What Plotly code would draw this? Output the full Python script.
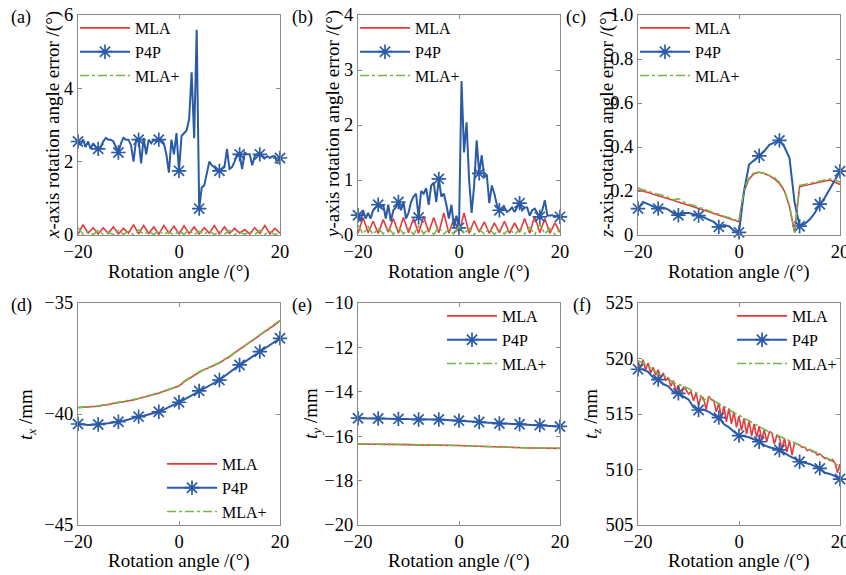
import plotly.graph_objects as go

# sampling grids (degrees)
angle_half = [k / 2 for k in range(-40, 41)]
angle_int = list(range(-20, 21))

# (a) x-axis rotation angle error
a_mla = [0.02, 0.28, 0.05, 0.2, 0.03, 0.2, 0.04, 0.22, 0.03, 0.18, 0.05, 0.28, 0.03, 0.26,
         0.04, 0.22, 0.02, 0.26, 0.05, 0.24, 0.03, 0.25, 0.04, 0.22, 0.03, 0.2, 0.05, 0.26,
         0.03, 0.22, 0.04, 0.18, 0.05, 0.15, 0.03, 0.2, 0.04, 0.26, 0.03, 0.18, 0.05]
a_mlap = [0.2, 0.02, 0.1, 0.01, 0.12, 0.02, 0.08, 0.01, 0.12, 0.02, 0.1, 0.01, 0.14, 0.02,
          0.1, 0.01, 0.12, 0.02, 0.08, 0.01, 0.1, 0.02, 0.14, 0.01, 0.1, 0.02, 0.12, 0.01,
          0.1, 0.02, 0.12, 0.01, 0.08, 0.02, 0.1, 0.01, 0.12, 0.02, 0.1, 0.01, 0.08]
a_p4p = [2.55, 2.45, 2.6, 2.4, 2.55, 2.35, 2.5, 2.4, 2.35, 2.4, 2.55, 2.65, 2.6, 2.6, 2.55,
         2.4, 2.25, 2.5, 2.65, 2.6, 2.6, 2.45, 2.0, 2.6, 2.6, 1.95, 2.65, 2.2, 2.6, 2.5, 2.6,
         2.55, 2.6, 2.6, 2.5, 2.2, 1.7, 2.6, 2.2, 2.78, 1.75, 2.7, 2.78, 2.85, 3.15, 4.44,
         2.64, 5.6, 0.72, 1.3, 1.35, 1.7, 2.0, 1.9, 1.85, 1.75, 1.75, 1.8, 1.85, 2.35, 1.8,
         1.85, 2.0, 2.2, 2.2, 1.8, 2.25, 2.2, 2.2, 1.9, 2.15, 2.2, 2.2, 2.15, 2.1, 2.15, 2.1,
         2.15, 2.15, 1.95, 2.1]

# (b) y-axis rotation angle error
b_mla = [0.03, 0.32, 0.04, 0.25, 0.03, 0.28, 0.05, 0.3, 0.03, 0.32, 0.04, 0.3, 0.03, 0.34,
         0.05, 0.32, 0.04, 0.4, 0.03, 0.3, 0.04, 0.4, 0.03, 0.26, 0.05, 0.24, 0.03, 0.22,
         0.04, 0.25, 0.03, 0.22, 0.05, 0.3, 0.03, 0.34, 0.04, 0.3, 0.03, 0.22, 0.05]
b_mlap = [0.18, 0.02, 0.15, 0.01, 0.12, 0.02, 0.14, 0.01, 0.15, 0.02, 0.12, 0.01, 0.16, 0.02,
          0.12, 0.01, 0.14, 0.02, 0.1, 0.01, 0.16, 0.02, 0.12, 0.01, 0.1, 0.02, 0.12, 0.01,
          0.1, 0.02, 0.12, 0.01, 0.1, 0.02, 0.14, 0.01, 0.2, 0.02, 0.12, 0.01, 0.1]
b_p4p = [0.36, 0.25, 0.45, 0.3, 0.4, 0.3, 0.45, 0.5, 0.55, 0.5, 0.55, 0.3, 0.55, 0.25, 0.45,
         0.5, 0.6, 0.45, 0.6, 0.3, 0.4, 0.6, 0.7, 0.75, 0.32, 0.8, 0.75, 0.85, 0.55, 0.9,
         0.95, 0.6, 1.02, 0.7, 0.75, 0.55, 0.3, 0.55, 0.15, 0.35, 0.13, 2.8, 1.5, 2.05, 1.0,
         0.4, 0.9, 1.72, 1.12, 1.45, 1.05, 1.1, 0.58, 0.9, 0.75, 0.55, 0.45, 0.45, 0.5, 0.42,
         0.45, 0.5, 0.42, 0.5, 0.58, 0.45, 0.5, 0.5, 0.35, 0.45, 0.48, 0.4, 0.33, 0.45, 0.63,
         0.35, 0.35, 0.36, 0.34, 0.35, 0.33]

# (c) z-axis rotation angle error
c_mla = [0.205, 0.2, 0.193, 0.185, 0.18, 0.172, 0.165, 0.158, 0.15, 0.142, 0.135, 0.128,
         0.12, 0.113, 0.106, 0.098, 0.09, 0.083, 0.076, 0.068, 0.06, 0.2, 0.255, 0.28, 0.285,
         0.28, 0.27, 0.255, 0.235, 0.2, 0.13, 0.015, 0.22, 0.225, 0.23, 0.235, 0.24, 0.245,
         0.25, 0.24, 0.23]
c_mlap = [0.215, 0.205, 0.2, 0.19, 0.185, 0.18, 0.17, 0.16, 0.165, 0.15, 0.14, 0.135, 0.125,
          0.12, 0.11, 0.1, 0.095, 0.085, 0.08, 0.07, 0.065, 0.21, 0.26, 0.285, 0.285, 0.28,
          0.27, 0.26, 0.24, 0.205, 0.13, 0.01, 0.225, 0.23, 0.235, 0.24, 0.245, 0.25, 0.255,
          0.25, 0.24]
c_p4p = [0.12, 0.15, 0.14, 0.13, 0.12, 0.125, 0.115, 0.1, 0.09, 0.1, 0.1, 0.095, 0.088, 0.08,
         0.07, 0.06, 0.037, 0.045, 0.04, 0.02, 0.012, 0.2, 0.32, 0.34, 0.36, 0.38, 0.41, 0.42,
         0.43, 0.4, 0.35, 0.15, 0.04, 0.05, 0.07, 0.1, 0.14, 0.17, 0.21, 0.25, 0.29]

# (d) t_x
d_mla = [-39.72, -39.7, -39.7, -39.66, -39.65, -39.6, -39.58, -39.52, -39.5, -39.45, -39.4,
         -39.37, -39.3, -39.25, -39.2, -39.12, -39.07, -38.98, -38.9, -38.82, -38.74, -38.55,
         -38.4, -38.25, -38.12, -38.0, -37.9, -37.78, -37.7, -37.55, -37.42, -37.25, -37.1,
         -36.95, -36.8, -36.62, -36.45, -36.3, -36.15, -35.98, -35.8]
d_mlap = [-39.7, -39.69, -39.68, -39.65, -39.63, -39.6, -39.56, -39.52, -39.48, -39.44, -39.4,
          -39.35, -39.3, -39.24, -39.18, -39.12, -39.05, -38.97, -38.89, -38.8, -38.72, -38.53,
          -38.4, -38.24, -38.1, -37.99, -37.88, -37.77, -37.68, -37.53, -37.4, -37.23, -37.08,
          -36.94, -36.78, -36.6, -36.44, -36.28, -36.12, -35.96, -35.78]
d_p4p = [-40.45, -40.48, -40.5, -40.48, -40.47, -40.44, -40.42, -40.38, -40.35, -40.3, -40.25,
         -40.18, -40.12, -40.08, -40.02, -39.96, -39.9, -39.8, -39.7, -39.58, -39.47, -39.35,
         -39.22, -39.1, -38.96, -38.85, -38.72, -38.6, -38.47, -38.3, -38.12, -37.95, -37.79,
         -37.65, -37.5, -37.35, -37.19, -37.05, -36.9, -36.75, -36.59]

# (e) t_y
e_mla = [-16.35, -16.35, -16.36, -16.36, -16.36, -16.37, -16.37, -16.37, -16.38, -16.38,
         -16.38, -16.39, -16.39, -16.39, -16.4, -16.4, -16.4, -16.41, -16.41, -16.41, -16.42,
         -16.43, -16.44, -16.45, -16.46, -16.47, -16.48, -16.49, -16.5, -16.51, -16.51,
         -16.52, -16.52, -16.52, -16.53, -16.53, -16.53, -16.54, -16.54, -16.54, -16.55]
e_mlap = [-16.34, -16.35, -16.35, -16.36, -16.36, -16.36, -16.37, -16.37, -16.37, -16.38,
          -16.38, -16.38, -16.39, -16.39, -16.39, -16.4, -16.4, -16.4, -16.41, -16.41, -16.41,
          -16.43, -16.44, -16.45, -16.46, -16.47, -16.48, -16.48, -16.49, -16.5, -16.5,
          -16.51, -16.51, -16.52, -16.52, -16.52, -16.53, -16.53, -16.53, -16.54, -16.54]
e_p4p = [-15.19, -15.19, -15.19, -15.2, -15.2, -15.2, -15.21, -15.21, -15.22, -15.22, -15.23,
         -15.24, -15.25, -15.25, -15.25, -15.25, -15.25, -15.26, -15.27, -15.29, -15.3,
         -15.31, -15.32, -15.34, -15.36, -15.38, -15.39, -15.41, -15.43, -15.44, -15.45,
         -15.45, -15.46, -15.47, -15.48, -15.49, -15.5, -15.51, -15.53, -15.55, -15.56]

# (f) t_z
f_mla = [519.7, 519.2, 519.9, 519.0, 519.6, 518.7, 519.2, 518.5, 519.0, 518.2, 518.7, 518.0,
         518.3, 517.5, 518.0, 517.0, 517.6, 516.6, 517.4, 517.2, 516.8, 517.0, 516.2, 516.9,
         515.8, 516.6, 516.4, 515.4, 516.6, 516.3, 516.2, 515.2, 516.0, 514.6, 515.7, 514.3,
         515.5, 514.1, 515.2, 513.8, 514.8, 513.5, 514.6, 513.2, 514.4, 513.0, 514.1, 512.9,
         513.9, 512.6, 513.6, 512.5, 513.4, 513.3, 512.3, 513.1, 512.9, 511.8, 512.8, 511.6,
         512.6, 511.3, 512.4, 512.3, 512.2, 512.0, 512.0, 511.7, 511.8, 511.6, 511.6, 511.3,
         511.4, 511.2, 511.0, 511.0, 510.8, 510.9, 510.6, 509.7, 510.5]
f_mlap = [519.8, 519.6, 519.3, 519.0, 518.6, 518.5, 518.2, 517.8, 517.7, 517.5, 517.3, 517.0,
          516.8, 516.2, 516.5, 516.2, 515.9, 515.7, 515.4, 515.1, 514.9, 514.6, 514.4, 514.1,
          513.9, 513.6, 513.4, 513.2, 513.0, 512.8, 512.6, 512.4, 512.2, 512.0, 511.8, 511.6,
          511.4, 511.1, 510.9, 510.5, 510.3]
f_p4p = [519.03, 519.0, 518.8, 518.3, 518.1, 517.7, 517.5, 517.0, 516.86, 516.6, 516.3, 515.6,
         515.36, 515.4, 515.2, 514.9, 514.67, 514.1, 513.8, 513.4, 513.05, 513.0, 512.9, 512.7,
         512.5, 512.2, 512.0, 511.9, 511.76, 511.5, 511.2, 511.0, 510.7, 510.6, 510.5, 510.3,
         510.1, 509.7, 509.6, 509.4, 509.14]

W, H = 846, 575
FONT = "Liberation Serif, DejaVu Serif, serif"
RED, BLUE, GREEN = "#e8393f", "#2b5ba6", "#74b84a"
FRAME = "#8a8a8a"


def px(x):
    return x / W


def py(y):
    return 1 - y / H


# plot boxes in pixels
cols = [(78, 280), (358, 560), (638, 840)]
rows = [(15, 235), (303, 525)]
xtitle_gap = [37, 36]      # x title centre below the plot box, per row

panels = [
    dict(label="(a)", mla=(angle_int, a_mla), mlap=(angle_int, a_mlap), p4p=(angle_half, a_p4p),
         yr=[0, 6], tv=[0, 2, 4, 6], tt=None,
         ytitle="<i>x</i>-axis rotation angle error /(°)", ytx=53, labx=21,
         leg=dict(x=px(75), y=py(11), xanchor="left", yanchor="top")),
    dict(label="(b)", mla=(angle_int, b_mla), mlap=(angle_int, b_mlap), p4p=(angle_half, b_p4p),
         yr=[0, 4], tv=[0, 1, 2, 3, 4], tt=None,
         ytitle="<i>y</i>-axis rotation angle error /(°)", ytx=333, labx=302,
         leg=dict(x=px(355), y=py(11), xanchor="left", yanchor="top")),
    dict(label="(c)", mla=(angle_int, c_mla), mlap=(angle_int, c_mlap), p4p=(angle_int, c_p4p),
         yr=[0, 1], tv=[0, 0.2, 0.4, 0.6, 0.8, 1.0], tt=["0", "0.2", "0.4", "0.6", "0.8", "1.0"],
         ytitle="<i>z</i>-axis rotation angle error /(°)", ytx=607, labx=576,
         leg=dict(x=px(635), y=py(11), xanchor="left", yanchor="top")),
    dict(label="(d)", mla=(angle_int, d_mla), mlap=(angle_int, d_mlap), p4p=(angle_int, d_p4p),
         yr=[-45, -35], tv=[-45, -40, -35], tt=None,
         ytitle="<i>t</i><sub><i>x</i></sub> /mm", ytx=27, labx=21,
         leg=dict(x=px(272), y=py(529), xanchor="right", yanchor="bottom")),
    dict(label="(e)", mla=(angle_int, e_mla), mlap=(angle_int, e_mlap), p4p=(angle_int, e_p4p),
         yr=[-20, -10], tv=[-20, -18, -16, -14, -12, -10], tt=None,
         ytitle="<i>t</i><sub><i>y</i></sub> /mm", ytx=312, labx=302,
         leg=dict(x=px(552), y=py(299), xanchor="right", yanchor="top")),
    dict(label="(f)", mla=(angle_half, f_mla), mlap=(angle_int, f_mlap), p4p=(angle_int, f_p4p),
         yr=[505, 525], tv=[505, 510, 515, 520, 525], tt=None,
         ytitle="<i>t</i><sub><i>z</i></sub> /mm", ytx=592, labx=582,
         leg=dict(x=px(842), y=py(299), xanchor="right", yanchor="top")),
]

fig = go.Figure()
layout = dict(
    width=W, height=H, margin=dict(l=0, r=0, t=0, b=0),
    paper_bgcolor="white", plot_bgcolor="white",
    font=dict(family=FONT, size=18, color="black"),
    annotations=[],
)

for i, p in enumerate(panels):
    n = "" if i == 0 else str(i + 1)
    xa, ya = "x" + n, "y" + n
    leg = "legend" + n
    (l, r) = cols[i % 3]
    (t, b) = rows[i // 3]
    axis_common = dict(showgrid=False, zeroline=False, showline=True, linecolor=FRAME,
                       linewidth=1, mirror="ticks", ticks="inside", ticklen=4,
                       tickcolor=FRAME, tickfont=dict(family=FONT, size=18.5),
                       automargin=False)
    layout["xaxis" + n] = dict(axis_common, domain=[px(l), px(r)], range=[-20, 20],
                               tickvals=[-20, 0, 20], ticklabeloverflow="allow", anchor=ya)
    yax = dict(axis_common, domain=[py(b), py(t)], range=p["yr"], tickvals=p["tv"], anchor=xa)
    if p["tt"]:
        yax["ticktext"] = p["tt"]
    layout["yaxis" + n] = yax
    layout[leg] = dict(p["leg"], bgcolor="rgba(0,0,0,0)", borderwidth=0,
                       font=dict(family=FONT, size=16), tracegroupgap=0, itemwidth=50)

    fig.add_trace(go.Scatter(x=p["mla"][0], y=p["mla"][1], mode="lines", name="MLA",
                             line=dict(color=RED, width=1.6), xaxis=xa, yaxis=ya, legend=leg))
    # a marker every 4 degrees
    fig.add_trace(go.Scatter(x=p["p4p"][0], y=p["p4p"][1], mode="lines+markers", name="P4P",
                             line=dict(color=BLUE, width=2),
                             marker=dict(symbol="asterisk-open", size=12, color=BLUE,
                                         maxdisplayed=11, line=dict(color=BLUE, width=1.7)),
                             cliponaxis=False, xaxis=xa, yaxis=ya, legend=leg))
    fig.add_trace(go.Scatter(x=p["mlap"][0], y=p["mlap"][1], mode="lines", name="MLA+",
                             line=dict(color=GREEN, width=1.6, dash="dashdot"),
                             xaxis=xa, yaxis=ya, legend=leg))

    layout["annotations"] += [
        dict(text=p["ytitle"], x=px(p["ytx"]), y=py((t + b) / 2), xref="paper", yref="paper",
             textangle=-90, showarrow=False, xanchor="center", yanchor="middle",
             font=dict(family=FONT, size=19)),
        dict(text="Rotation angle /(°)", x=px((l + r) / 2), y=py(b + xtitle_gap[i // 3]),
             xref="paper", yref="paper", showarrow=False, xanchor="center", yanchor="middle",
             font=dict(family=FONT, size=19)),
        dict(text=p["label"], x=px(p["labx"]), y=py(t + 2), xref="paper", yref="paper",
             showarrow=False, xanchor="center", yanchor="middle",
             font=dict(family=FONT, size=18)),
    ]

fig.update_layout(**layout)
fig.write_html("out.html", config={"displayModeBar": False},
               post_script="document.body.style.margin = '0';")
